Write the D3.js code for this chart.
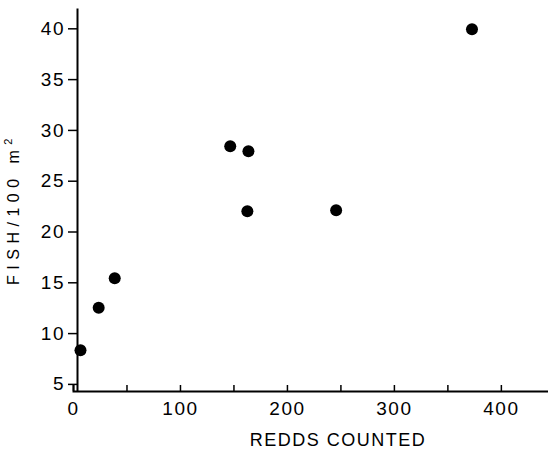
<!DOCTYPE html>
<html>
<head>
<meta charset="utf-8">
<script src="https://cdn.jsdelivr.net/npm/d3@7"></script>
<style>
  html, body { margin: 0; padding: 0; background: #fff; }
  svg { display: block; }
  text { font-family: "Liberation Sans", Arial, Helvetica, sans-serif; fill: #000; }
</style>
</head>
<body>
<svg id="chart" width="548" height="455"></svg>
<script>
// Data
const redds = [7, 24, 39, 147, 164, 163, 246, 373];
const fish  = [8.3, 12.5, 15.4, 28.4, 27.9, 22.0, 22.1, 39.9];
const xTicks = [0, 50, 100, 150, 200, 250, 300, 350, 400];
const xLabels = [0, 100, 200, 300, 400];
const yTicks = [5, 10, 15, 20, 25, 30, 35, 40];
const xTitle = "REDDS COUNTED";
const yTitle = "FISH/100\u00a0m";

const svg = d3.select("#chart");

const x = d3.scaleLinear().domain([0, 445]).range([73, 549]);
const y = d3.scaleLinear().domain([4.3, 42]).range([391, 8]);
const yAxisX = 77;

// X axis (ticks pointing inward/up)
const xAxis = d3.axisBottom(x)
  .tickValues(xTicks)
  .tickSize(-6)
  .tickFormat(d => xLabels.includes(d) ? d : "");
const gx = svg.append("g").attr("transform", `translate(0,${y.range()[0]})`).call(xAxis);
gx.select(".domain").attr("stroke", "#000").attr("stroke-width", 2);
gx.selectAll(".tick line").attr("stroke", "#000").attr("stroke-width", 1.5);
gx.selectAll(".tick text")
  .attr("font-size", 19).attr("letter-spacing", "1.5px")
  .attr("dy", "0.71em").attr("y", 11);

// Y axis (ticks outward/left)
const yAxis = d3.axisLeft(y)
  .tickValues(yTicks)
  .tickSize(9)
  .tickPadding(3)
  .tickSizeOuter(0);
const gy = svg.append("g").attr("transform", `translate(${yAxisX},0)`).call(yAxis);
gy.select(".domain").attr("stroke", "#000").attr("stroke-width", 2);
gy.selectAll(".tick line").attr("stroke", "#000").attr("stroke-width", 1.5);
gy.selectAll(".tick text").attr("font-size", 19).attr("letter-spacing", "1.5px");

// Points
svg.append("g").selectAll("circle")
  .data(redds.map((r, i) => ({ r, f: fish[i] })))
  .join("circle")
  .attr("cx", d => x(d.r))
  .attr("cy", d => y(d.f))
  .attr("r", 6)
  .attr("fill", "#000");

// X title
svg.append("text")
  .attr("x", 338).attr("y", 446)
  .attr("text-anchor", "middle")
  .attr("font-size", 18)
  .attr("letter-spacing", "1.5px")
  .text(xTitle);

// Y title
const yt = svg.append("text")
  .attr("transform", "translate(19,209) rotate(-90)")
  .attr("text-anchor", "middle")
  .attr("font-size", 16)
  .attr("fill", "#222")
  .attr("letter-spacing", "5.5px");
yt.append("tspan").text(yTitle);
yt.append("tspan").attr("font-size", 11).attr("dy", -7).text("2");
</script>
</body>
</html>
